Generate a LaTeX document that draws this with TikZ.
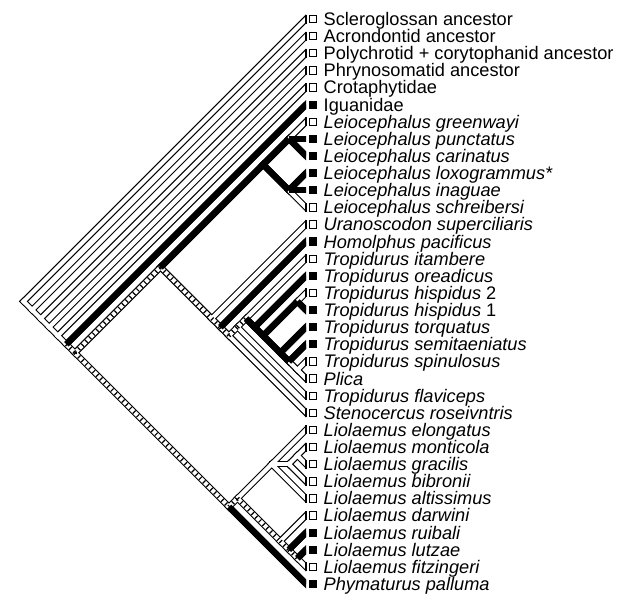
\documentclass[tikz,border=0pt]{standalone}
\usepackage{fontspec}
\setmainfont{Liberation Sans}
\begin{document}
\begin{tikzpicture}[x=1pt,y=-1pt,
  bo/.style={line width=6.4pt,line cap=rect,black},
  bw/.style={line width=4.2pt,line cap=rect,white},
  bh/.style={line width=4.2pt,line cap=butt,black,dash pattern=on 1.2pt off 4pt},
  sqW/.style={draw,line width=0.9pt,minimum width=6.4pt,minimum height=7.4pt,inner sep=0pt,fill=white},
  sqB/.style={fill=black,minimum width=7.2pt,minimum height=8.2pt,inner sep=0pt},
  lab/.style={anchor=base west,inner sep=0pt,font=\fontsize{18.2}{18}\selectfont}]
\useasboundingbox (0,0) rectangle (644,598);
\newcommand\N[2]{\coordinate (n-#1-#2) at ({306-8.56*(#2-#1)},{19+8.56*(#1+#2)});}
\foreach \k in {0,...,33} {\coordinate (t\k) at (306,{19+17.12*\k});}
\N{0}{33}\N{1}{33}\N{2}{33}\N{3}{33}\N{4}{33}\N{5}{33}\N{6}{33}
\N{6}{23}\N{6}{11}\N{6}{8}\N{9}{11}
\N{12}{23}\N{13}{23}\N{14}{23}\N{14}{22}\N{14}{21}\N{15}{21}\N{16}{21}\N{16}{17}\N{18}{21}\N{19}{21}\N{20}{21}
\N{24}{33}\N{24}{32}\N{24}{28}\N{25}{27}\N{25}{26}\N{29}{32}\N{30}{32}\N{31}{32}
\newcommand\alledges{%
\E W{n-0-33}{t0}\E W{n-0-33}{n-1-33}
\E W{n-1-33}{t1}\E W{n-1-33}{n-2-33}
\E W{n-2-33}{t2}\E W{n-2-33}{n-3-33}
\E W{n-3-33}{t3}\E W{n-3-33}{n-4-33}
\E W{n-4-33}{t4}\E W{n-4-33}{n-5-33}
\E B{n-5-33}{t5}\E H{n-5-33}{n-6-33}
\E H{n-6-33}{n-6-23}
\E B{n-6-23}{n-6-11}
\E B{n-6-11}{n-6-8}\E W{n-6-8}{t6}\E B{n-6-8}{t7}\E B{n-6-8}{t8}
\E B{n-6-11}{n-9-11}\E B{n-9-11}{t9}\E B{n-9-11}{t10}\E W{n-9-11}{t11}
\E H{n-6-23}{n-12-23}
\E W{n-12-23}{t12}\E H{n-12-23}{n-13-23}
\E B{n-13-23}{t13}\E H{n-13-23}{n-14-23}
\E W{n-14-23}{t23}\E H{n-14-23}{n-14-22}
\E W{n-14-22}{t22}\E H{n-14-22}{n-14-21}
\E W{n-14-21}{t14}\E B{n-14-21}{n-15-21}
\E B{n-15-21}{t15}\E B{n-15-21}{n-16-21}
\E B{n-16-21}{n-16-17}\E W{n-16-17}{t16}\E B{n-16-17}{t17}
\E B{n-16-21}{n-18-21}\E B{n-18-21}{t18}
\E B{n-18-21}{n-19-21}\E B{n-19-21}{t19}
\E W{n-19-21}{n-20-21}\E W{n-20-21}{t20}\E W{n-20-21}{t21}
\E H{n-6-33}{n-24-33}
\E H{n-24-33}{n-24-32}
\E W{n-24-32}{n-24-28}\E W{n-24-28}{t24}\E W{n-24-28}{n-25-27}
\E W{n-25-27}{n-25-26}\E W{n-25-26}{t25}\E W{n-25-26}{t26}\E W{n-25-27}{t27}\E W{n-24-28}{t28}
\E H{n-24-32}{n-29-32}\E W{n-29-32}{t29}
\E H{n-29-32}{n-30-32}\E B{n-30-32}{t30}
\E H{n-30-32}{n-31-32}\E B{n-31-32}{t31}\E W{n-31-32}{t32}
\E B{n-24-33}{t33}}
\begin{scope}
\clip (0,0) rectangle (306,598);
\newcommand\E[3]{\draw[bo](#2)--(#3);}\alledges
\renewcommand\E[3]{\ifx#1B\else\draw[bw](#2)--(#3);\fi}\alledges
\renewcommand\E[3]{\ifx#1H\draw[bh](#2)--(#3);\fi}\alledges
\renewcommand\E[3]{\ifx#1B\draw[bo,line cap=butt](#2)--(#3);\fi}\alledges
\end{scope}
\foreach \k in {0,1,2,3,4,6,11,12,14,16,20,21,22,23,24,25,26,27,28,29,32}
  {\draw[line width=1.1pt] ([yshift=-4.5pt]t\k) -- ([yshift=4.5pt]t\k);}
\newcommand\tip[3]{\node[sq#2] (s#1) at (313,{19+17.12*#1}) {};
  \node[lab] (l#1) at (323.5,{25.5+17.12*#1}) {#3};}
\tip{0}{W}{Scleroglossan ancestor}
\tip{1}{W}{Acrondontid ancestor}
\tip{2}{W}{Polychrotid + corytophanid ancestor}
\tip{3}{W}{Phrynosomatid ancestor}
\tip{4}{W}{Crotaphytidae}
\tip{5}{B}{Iguanidae}
\tip{6}{W}{\textit{Leiocephalus greenwayi}}
\tip{7}{B}{\textit{Leiocephalus punctatus}}
\tip{8}{B}{\textit{Leiocephalus carinatus}}
\tip{9}{B}{\textit{Leiocephalus loxogrammus*}}
\tip{10}{B}{\textit{Leiocephalus inaguae}}
\tip{11}{W}{\textit{Leiocephalus schreibersi}}
\tip{12}{W}{\textit{Uranoscodon superciliaris}}
\tip{13}{B}{\textit{Homolphus pacificus}}
\tip{14}{W}{\textit{Tropidurus itambere}}
\tip{15}{B}{\textit{Tropidurus oreadicus}}
\tip{16}{W}{\textit{Tropidurus hispidus} 2}
\tip{17}{B}{\textit{Tropidurus hispidus} 1}
\tip{18}{B}{\textit{Tropidurus torquatus}}
\tip{19}{B}{\textit{Tropidurus semitaeniatus}}
\tip{20}{W}{\textit{Tropidurus spinulosus}}
\tip{21}{W}{\textit{Plica}}
\tip{22}{W}{\textit{Tropidurus flaviceps}}
\tip{23}{W}{\textit{Stenocercus roseivntris}}
\tip{24}{W}{\textit{Liolaemus elongatus}}
\tip{25}{W}{\textit{Liolaemus monticola}}
\tip{26}{W}{\textit{Liolaemus gracilis}}
\tip{27}{W}{\textit{Liolaemus bibronii}}
\tip{28}{W}{\textit{Liolaemus altissimus}}
\tip{29}{W}{\textit{Liolaemus darwini}}
\tip{30}{B}{\textit{Liolaemus ruibali}}
\tip{31}{B}{\textit{Liolaemus lutzae}}
\tip{32}{W}{\textit{Liolaemus fitzingeri}}
\tip{33}{B}{\textit{Phymaturus palluma}}
\end{tikzpicture}
\end{document}
